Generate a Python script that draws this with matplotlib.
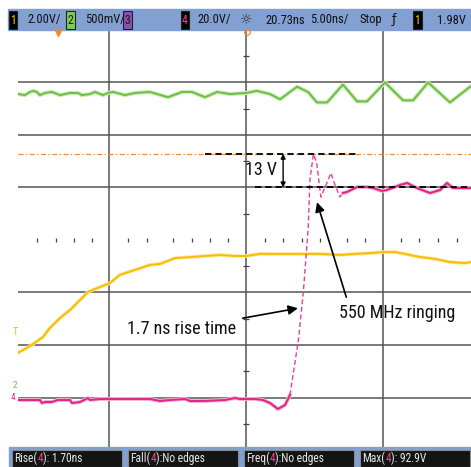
import numpy as np
import matplotlib
matplotlib.use("Agg")
import matplotlib.pyplot as plt
import matplotlib.font_manager as fm
import matplotlib.patheffects as pe
from matplotlib.patches import Rectangle

# ---------------- data (time in ns, values in volts) ----------------
# Channel 1 (yellow), 2 V/div
ch1_t = [-8.35, -7.91, -7.44, -7.18, -6.81, -6.45, -6.08, -5.79, -5.35, -4.98, -4.62, -4.07,
         -3.52, -3.15, -2.60, -2.05, -1.50, -0.95, -0.40, 0.00, 0.51, 1.25, 1.98, 2.71, 3.44,
         3.99, 4.54, 5.02, 5.46, 5.82, 6.37, 6.92, 7.47, 8.02, 8.24]
ch1_v = [1.10, 1.36, 1.70, 2.05, 2.43, 2.73, 3.11, 3.42, 3.61, 3.76, 4.07, 4.26,
         4.45, 4.49, 4.71, 4.75, 4.79, 4.83, 4.79, 4.79, 4.87, 4.87, 4.87, 4.87, 4.83,
         4.87, 4.90, 4.94, 4.94, 4.87, 4.75, 4.68, 4.56, 4.52, 4.56]

# Channel 2 (green), 500 mV/div
ch2_t = [-8.35, -8.10, -7.91, -7.80, -7.66, -7.55, -7.36, -7.11, -6.81, -6.45, -6.15, -6.01,
         -5.71, -5.53, -5.24, -5.05, -4.87, -4.43, -4.07, -3.52, -2.86, -2.34, -1.98, -1.50,
         -1.06, -0.59, 0.00, 0.40, 0.88, 1.25, 1.87, 2.27, 2.60, 2.97, 3.55, 4.07, 4.43,
         5.09, 5.75, 6.12, 6.67, 7.47, 8.21]
ch2_v = [2.80, 2.79, 2.82, 2.83, 2.82, 2.79, 2.81, 2.82, 2.79, 2.81, 2.81, 2.79,
         2.80, 2.82, 2.79, 2.81, 2.82, 2.79, 2.81, 2.82, 2.77, 2.82, 2.82, 2.77,
         2.82, 2.80, 2.81, 2.83, 2.80, 2.75, 2.87, 2.82, 2.72, 2.72, 2.89, 2.73, 2.73,
         2.91, 2.74, 2.74, 2.91, 2.72, 2.87]

# Channel 4 (pink), 20 V/div : baseline, fast edge with ringing, settled tail
ch4_base_t = [-8.35, -7.55, -7.47, -7.36, -7.11, -6.89, -6.45, -6.37, -6.08, -5.93, -5.79,
              -5.71, -5.35, -3.52, -3.15, -2.78, -2.23, -2.05, -1.50, -0.77, -0.40, -0.22,
              0.33, 0.62, 0.88, 1.17, 1.43, 1.61]
ch4_base_v = [-0.95, -0.95, -2.10, -1.71, -1.71, -0.95, -0.95, -2.10, -1.71, -0.95, -0.19,
              -0.95, -0.57, -0.57, -1.33, -0.95, -0.57, -1.33, -1.33, -0.95, -0.19, -0.57,
              -0.57, -0.95, -2.10, -4.38, -2.86, 0.95]
ch4_edge_t = [1.61, 1.79, 1.92, 2.10, 2.28, 2.34, 2.47, 2.59, 2.74, 2.93, 3.11, 3.26, 3.44, 3.55]
ch4_edge_v = [0.95, 13.14, 21.90, 40.19, 64.95, 82.86, 92.76, 89.33, 76.38, 80.95, 85.52,
              80.95, 76.38, 77.90]
ch4_tail_t = [3.55, 3.70, 4.07, 4.43, 4.65, 4.98, 5.16, 5.64, 5.90, 6.26, 6.74, 7.11, 7.36,
              7.58, 8.24]
ch4_tail_v = [77.90, 78.29, 80.19, 80.19, 79.81, 78.67, 79.05, 80.95, 81.71, 79.81, 77.90,
              79.05, 81.71, 79.81, 79.81]

# measurements
max_v = 92.9
settle_v = 80.0
rise_ns = 1.70

header_items = ["2.00V/", "500mV/", "20.0V/", "20.73ns", "5.00ns/", "Stop", "1.98V"]
meas_labels = [("Rise(", "4", "): 1.70ns"), ("Fall(", "4", "):No edges"),
               ("Freq(", "4", "):No edges"), ("Max(", "4", "): 92.9V")]

# channel scales (V/div) and ground offsets (div)
CH1_SCALE, CH1_OFF = 2.0, -2.70
CH2_SCALE, CH2_OFF = 0.5, -2.82
CH4_SCALE, CH4_OFF = 20.0, -3.0


def c1(v):
    return np.asarray(v) / CH1_SCALE + CH1_OFF


def c2(v):
    return np.asarray(v) / CH2_SCALE + CH2_OFF


def c4(v):
    return np.asarray(v) / CH4_SCALE + CH4_OFF


# ---------------- fonts ----------------
def narrow_font():
    prefs = ['Liberation Sans Narrow', 'Roboto Condensed', 'Open Sans Condensed',
             'Noto Sans Condensed', 'DejaVu Sans Condensed']
    fl = fm.fontManager.ttflist

    def regular(f):
        return f.style == 'normal' and f.weight in (400, 'normal', 'regular', 'book')
    for p in prefs:
        for f in fl:
            if f.name == p and regular(f):
                return f.fname
    for f in fl:
        if isinstance(f.stretch, str) and 'condensed' in f.stretch and regular(f) \
                and 'semi' not in f.stretch and 'extra' not in f.stretch:
            return f.fname
    for f in fl:
        if ('Narrow' in f.name or 'Condensed' in f.name) and regular(f):
            return f.fname
    return None


NARROW = narrow_font()


def FP(size):
    if NARROW:
        return fm.FontProperties(fname=NARROW, size=size)
    return fm.FontProperties(family='DejaVu Sans', size=size * 0.8)


# ---------------- figure ----------------
W, H = 471, 467
fig = plt.figure(figsize=(W / 100, H / 100), dpi=100)
fig.patch.set_facecolor('white')

ax = fig.add_axes([18 / W, 1 - 450 / H, (W - 18) / W, 420 / H])
ax.set_xlim(-8.35, 8.24)
ax.set_ylim(-4, 4)
ax.axis('off')

GRID = '#555555'
for d in [-3, -2, -1, 1, 2, 3]:
    ax.axhline(d, color=GRID, lw=1.1, zorder=1)
for tt in [-5, 0, 5]:
    ax.axvline(tt, color=GRID, lw=1.1, zorder=1)

# minor ticks on centre lines
hticks = [-7.64, -6.97, -6.30, -5.63, -4.31, -3.64, -2.66, -1.99, -1.32, -0.65, 0.70, 1.37,
          2.04, 2.71, 3.69, 4.36, 5.68, 6.35, 7.03, 7.72]
ax.plot(hticks, np.zeros(len(hticks)), ls='none', marker='|', ms=3.5, mew=0.9,
        color='#444444', zorder=1)
vticks = [-3.5, -2.5, -1.5, -0.5, 0.5, 1.5, 2.5, 3.5]
ax.plot(np.zeros(len(vticks)), vticks, ls='none', marker='_', ms=4, mew=0.9,
        color='#444444', zorder=1)

# orange max marker line
ax.axhline(c4(max_v), color='#f08a30', lw=0.9, ls=(0, (4, 2, 1, 2)), zorder=2)

halo_g = [pe.Stroke(linewidth=3.0, foreground='#cdeab8'), pe.Normal()]
halo_y = [pe.Stroke(linewidth=2.6, foreground='#fbe6a0'), pe.Normal()]
halo_p = [pe.Stroke(linewidth=2.8, foreground='#f4b8d4'), pe.Normal()]

ax.plot(ch2_t, c2(ch2_v), color='#6cbf45', lw=1.4, zorder=3, path_effects=halo_g)
ax.plot(ch1_t, c1(ch1_v), color='#f5c000', lw=1.4, zorder=3, path_effects=halo_y)
ax.plot(ch4_base_t, c4(ch4_base_v), color='#e0288a', lw=1.5, zorder=4, path_effects=halo_p)
ax.plot(ch4_edge_t, c4(ch4_edge_v), color='#e8409a', lw=1.0, ls=(0, (3.5, 2)), zorder=4)
ax.plot(ch4_tail_t, c4(ch4_tail_v), color='#e0288a', lw=1.5, zorder=4, path_effects=halo_p)

# black dashed measurement lines
ax.plot([-1.50, 4.07], [c4(max_v)] * 2, color='black', lw=1.3, ls=(0, (3.5, 2.2)), zorder=5)
ax.plot([0.33, 8.24], [c4(settle_v)] * 2, color='black', lw=1.3, ls=(0, (3.5, 2.2)), zorder=5)
ax.annotate('', xy=(1.36, c4(max_v)), xytext=(1.36, c4(settle_v)),
            arrowprops=dict(arrowstyle='<|-|>', color='black', lw=1.0, mutation_scale=7,
                            shrinkA=0, shrinkB=0), zorder=6)
ax.text(1.14, 1.33, f"{max_v - settle_v:.0f} V", ha='right', va='center',
        fontproperties=FP(13), color='#111111', zorder=6)

ax.annotate(f"{rise_ns:.1f} ns rise time", xy=(1.90, -1.30), xytext=(-0.37, -1.70),
            ha='right', va='center', fontproperties=FP(13), color='#111111',
            arrowprops=dict(arrowstyle='-|>', color='black', lw=1.2, mutation_scale=14,
                            shrinkA=3, shrinkB=0), zorder=6)
ax.annotate("550 MHz ringing", xy=(2.60, 0.72), xytext=(3.41, -1.39),
            ha='left', va='center', fontproperties=FP(13), color='#111111',
            arrowprops=dict(arrowstyle='-|>', color='black', lw=1.2, mutation_scale=14,
                            shrinkA=3, shrinkB=0, relpos=(0.08, 1.0)), zorder=6)

# ---------------- screen chrome (pixel coordinates) ----------------
ax0 = fig.add_axes([0, 0, 1, 1], zorder=5)
ax0.set_xlim(0, W)
ax0.set_ylim(H, 0)
ax0.axis('off')
ax0.patch.set_alpha(0)

BAR = '#82a0d2'
ax0.add_patch(Rectangle((8, 9), W - 8, 21, color=BAR, zorder=1))
ax0.add_patch(Rectangle((9, 447), W - 9, H - 447, color=BAR, zorder=1))

hfp = FP(9)


def chbox(x, label, face, tcol):
    ax0.add_patch(Rectangle((x, 11), 8.5, 17.5, facecolor=face, edgecolor='#222222',
                            lw=0.8, zorder=2))
    ax0.text(x + 4.3, 20, label, color=tcol, ha='center', va='center',
             fontproperties=FP(8.5), zorder=3)


chbox(8.7, '1', 'black', '#f5d000')
chbox(66, '2', '#7ccf50', '#1a1a1a')
chbox(123, '3', '#8a4fb0', '#1a1a1a')
chbox(180.5, '4', 'black', '#ff3a9a')
chbox(413, '1', 'black', '#f5d000')

hx = [27, 85, 197, 265, 310, 359, 437]
for x, s in zip(hx, header_items):
    ax0.text(x, 20, s, ha='left', va='center', fontproperties=hfp, color='#101010', zorder=3)
ax0.text(246.5, 19.5, '\u263c', ha='center', va='center', fontsize=10,
         family='DejaVu Sans', color='#333333', zorder=3)
ax0.text(394.5, 20, '\u0192', ha='center', va='center', fontsize=9,
         family='DejaVu Sans', color='#101010', zorder=3)

# markers under header
ax0.plot(58, 32.5, marker='v', color='#f08a30', ms=4.5, zorder=3)
ax0.plot(246.5, 31.5, marker='o', mfc='none', mec='#f08a30', ms=4, mew=0.9, zorder=3)

# left channel markers
ax0.text(15, 332, 'T', color='#f5c000', ha='center', va='center', fontproperties=FP(7.5))
ax0.text(15, 386, '2', color='#6cbf45', ha='center', va='center', fontproperties=FP(6.5))
ax0.text(13, 397.5, '4', color='#e0288a', ha='center', va='center', fontproperties=FP(6.5))

# bottom measurement boxes
renderer = fig.canvas.get_renderer()
box_x = [12, 128, 243.5, 360]
bfp = FP(8.3)
for bx, (a, b, c) in zip(box_x, meas_labels):
    ax0.add_patch(Rectangle((bx, 449.5), 110, 17.5, facecolor='#141414',
                            edgecolor='#8a8a8a', lw=0.8, zorder=2))
    x = bx + 2.5
    for s, col in ((a, '#e8e8e8'), (b, '#ff3a9a'), (c, '#e8e8e8')):
        t = ax0.text(x, 458.5, s, ha='left', va='center', fontproperties=bfp,
                     color=col, zorder=3)
        x += t.get_window_extent(renderer=renderer).width

fig.savefig('out.png', dpi=100, facecolor='white')
